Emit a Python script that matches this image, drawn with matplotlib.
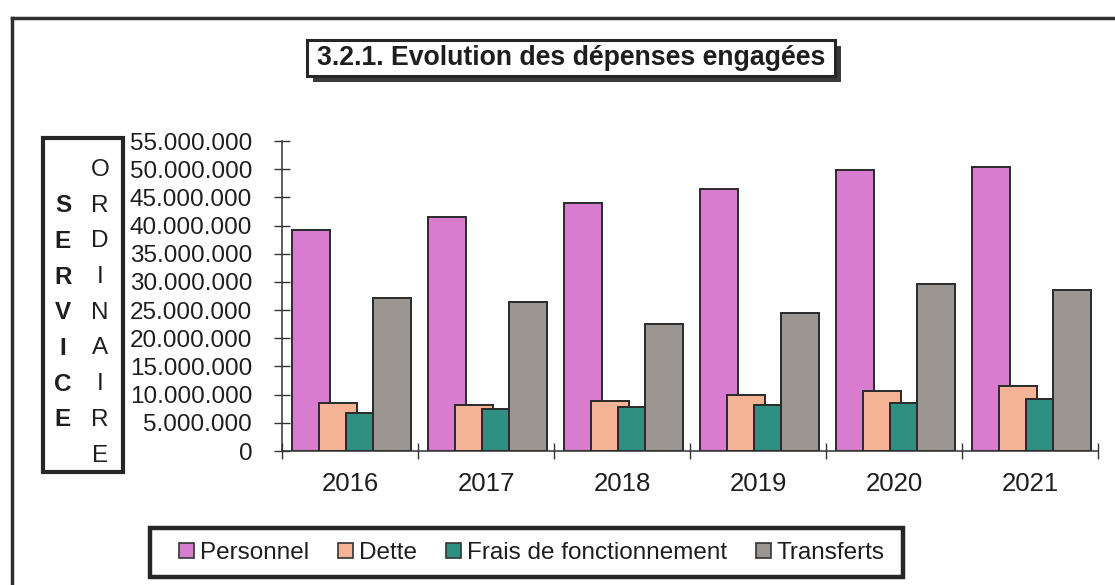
import numpy as np
import matplotlib
matplotlib.use("Agg")
import matplotlib.pyplot as plt
from matplotlib.patches import Rectangle, Patch
from matplotlib.lines import Line2D

# ---- data ----
years = ["2016", "2017", "2018", "2019", "2020", "2021"]
series_names = ["Personnel", "Dette", "Frais de fonctionnement", "Transferts"]
personnel = [39.2e6, 41.5e6, 44.0e6, 46.5e6, 49.9e6, 50.4e6]
dette = [8.5e6, 8.2e6, 8.9e6, 9.9e6, 10.6e6, 11.5e6]
frais = [6.7e6, 7.4e6, 7.8e6, 8.2e6, 8.5e6, 9.2e6]
transferts = [27.1e6, 26.4e6, 22.5e6, 24.5e6, 29.6e6, 28.6e6]
y_ticks = [0, 5e6, 10e6, 15e6, 20e6, 25e6, 30e6, 35e6, 40e6, 45e6, 50e6, 55e6]
title = "3.2.1. Evolution des dépenses engagées"
label_left = "SERVICE"
label_right = "ORDINAIRE"

colors = ["#d77ccf", "#f5b496", "#2f8f80", "#9b9692"]
edge = "#2a2a2a"
txt = "#1e1e1e"

plt.rcParams['font.family'] = ['Liberation Sans', 'DejaVu Sans']

W, H = 1115, 585
fig = plt.figure(figsize=(W / 100, H / 100), dpi=100)
fig.patch.set_facecolor("white")


def fx(x):
    return x / W


def fy(y):
    return 1 - y / H


ax = fig.add_axes([fx(282), fy(451), fx(1098) - fx(282), fy(141) - fy(451)])
ax.set_facecolor("none")

values = [personnel, dette, frais, transferts]
x = np.arange(len(years))
bar_w = 0.279
step = 0.1985
first = 0.0735
for k, (vals, c) in enumerate(zip(values, colors)):
    ax.bar(x + first + k * step, vals, width=bar_w, align="edge", color=c,
           edgecolor=edge, linewidth=1.4, zorder=2 + k, label=series_names[k])

ax.set_xlim(0, len(years))
ax.set_ylim(0, 55e6)
for s in ["top", "right"]:
    ax.spines[s].set_visible(False)
for s in ["left", "bottom"]:
    ax.spines[s].set_color("#333333")
    ax.spines[s].set_linewidth(1.1)

ax.set_yticks(y_ticks)
ax.set_yticklabels([f"{v:,.0f}".replace(",", ".") for v in y_ticks],
                   fontsize=17.5, color=txt)
ax.tick_params(axis="y", direction="inout", length=11, width=1.0,
               color="#333333", pad=16)

ax.set_xticks(np.arange(len(years) + 1))
ax.set_xticklabels([])
ax.tick_params(axis="x", which="major", direction="inout", length=11,
               width=1.0, color="#333333")
ax.set_xticks(x + 0.5, minor=True)
ax.set_xticklabels(years, minor=True, fontsize=18.5, color=txt)
ax.tick_params(axis="x", which="minor", length=0, pad=15)

# outer frame
fig.add_artist(Line2D([fx(12), fx(12)], [fy(585), fy(18)], color="#303030", lw=2.5,
                      transform=fig.transFigure))
fig.add_artist(Line2D([fx(12), 1.0], [fy(18), fy(18)], color="#303030", lw=2.5,
                      transform=fig.transFigure))


def box(x0, y0, x1, y1, lw, shadow=0):
    if shadow:
        fig.add_artist(Rectangle((fx(x0 + shadow), fy(y1 + shadow)),
                                 fx(x1) - fx(x0), fy(y0) - fy(y1),
                                 transform=fig.transFigure, facecolor="#3a3a3a",
                                 edgecolor="none", zorder=5))
    fig.add_artist(Rectangle((fx(x0), fy(y1)), fx(x1) - fx(x0), fy(y0) - fy(y1),
                             transform=fig.transFigure, facecolor="white",
                             edgecolor="#262626", lw=lw, zorder=6))


# title box
box(307, 40, 835, 76, 2.2, shadow=6)
fig.text(fx(571), fy(58), title, ha="center", va="center", fontsize=19.2,
         fontweight="bold", color=txt, zorder=7)

# y label box
box(43, 138, 123, 472, 3.0)
row0 = 170
row_step = 35.7
for i, ch in enumerate(label_right):
    fig.text(fx(100), fy(row0 + i * row_step), ch, ha="center", va="center",
             fontsize=17.5, color=txt, zorder=7)
for i, ch in enumerate(label_left):
    fig.text(fx(63), fy(row0 + (i + 1) * row_step), ch, ha="center", va="center",
             fontsize=17.5, fontweight="bold", color=txt, zorder=7)

# legend box
box(150, 528, 903, 577, 3.2)
handles = [Patch(facecolor=c, edgecolor="#333333", linewidth=1.2) for c in colors]
leg = fig.legend(handles, series_names, loc="center",
                 bbox_to_anchor=(fx(532), fy(553)), ncol=4, frameon=False,
                 fontsize=17.5, handlelength=0.6, handleheight=0.6,
                 handletextpad=0.25, columnspacing=1.2, borderpad=0,
                 borderaxespad=0)
leg.set_zorder(8)
for t in leg.get_texts():
    t.set_color(txt)

fig.savefig("out.png", dpi=100, facecolor="white")
